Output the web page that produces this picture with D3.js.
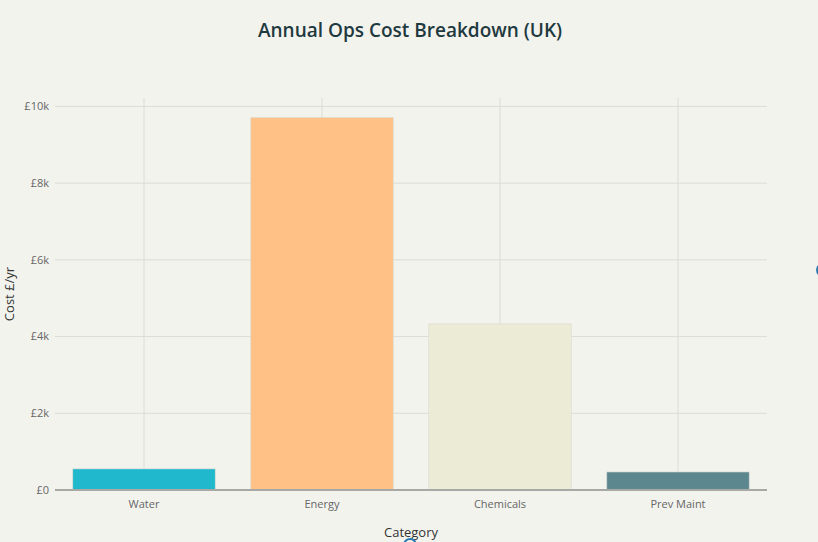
<!DOCTYPE html>
<html>
<head>
<meta charset="utf-8">
<script src="https://cdn.jsdelivr.net/npm/d3@7"></script>
<style>
  body { margin: 0; background: #f3f3ee; }
  svg { display: block; font-family: "Open Sans", "DejaVu Sans", sans-serif; }
</style>
</head>
<body>
<svg id="chart" width="818" height="542"></svg>
<script>
"use strict";

const categories = ["Water", "Energy", "Chemicals", "Prev Maint"];
const costs = [550, 9710, 4330, 470];
const barColors = ["#1fb8cd", "#ffc185", "#eceBd5", "#5d878f"];
const yTicks = [0, 2000, 4000, 6000, 8000, 10000];

const margin = { top: 98, right: 51, bottom: 52, left: 55 };
const width = 818, height = 542;
const svg = d3.select("#chart");
const plotW = width - margin.left - margin.right;
const plotH = height - margin.top - margin.bottom;

const x = d3.scaleBand().domain(categories).range([0, plotW])
  .paddingInner(0.2).paddingOuter(0.1);
const y = d3.scaleLinear().domain([0, 10220]).range([plotH, 0]);

const g = svg.append("g").attr("transform", `translate(${margin.left},${margin.top})`);

// grid
g.selectAll(".hgrid").data(yTicks.slice(1)).join("line")
  .attr("x1", 0).attr("x2", plotW)
  .attr("y1", d => y(d)).attr("y2", d => y(d))
  .attr("stroke", "#dcdcd6").attr("stroke-width", 1);
g.selectAll(".vgrid").data(categories).join("line")
  .attr("x1", d => x(d) + x.bandwidth() / 2).attr("x2", d => x(d) + x.bandwidth() / 2)
  .attr("y1", 0).attr("y2", plotH)
  .attr("stroke", "#dcdcd6").attr("stroke-width", 1);

// bars
g.selectAll("rect").data(categories).join("rect")
  .attr("x", d => x(d))
  .attr("width", x.bandwidth())
  .attr("y", (d, i) => y(costs[i]))
  .attr("height", (d, i) => plotH - y(costs[i]))
  .attr("fill", (d, i) => barColors[i])
  .attr("stroke", "#d9d9cf").attr("stroke-width", 0.6);

// axes
const fmt = d => d === 0 ? "£0" : "£" + (d / 1000) + "k";
g.selectAll(".ytick").data(yTicks).join("text")
  .attr("x", -6).attr("y", d => y(d)).attr("dy", "0.35em")
  .attr("text-anchor", "end").attr("font-size", 11).attr("fill", "#666")
  .text(fmt);

g.append("line").attr("x1", 0).attr("x2", plotW).attr("y1", plotH).attr("y2", plotH)
  .attr("stroke", "#a8a8a4").attr("stroke-width", 2);

g.selectAll(".xtick").data(categories).join("text")
  .attr("x", d => x(d) + x.bandwidth() / 2).attr("y", plotH + 18)
  .attr("text-anchor", "middle").attr("font-size", 11).attr("fill", "#666")
  .text(d => d);

// titles
svg.append("text").attr("x", 410).attr("y", 37).attr("text-anchor", "middle")
  .attr("font-size", 19).attr("font-weight", 600).attr("fill", "#1f3a3f")
  .text("Annual Ops Cost Breakdown (UK)");
svg.append("text").attr("x", 411).attr("y", 537).attr("text-anchor", "middle")
  .attr("font-size", 13).attr("fill", "#333").text("Category");
svg.append("text").attr("transform", "translate(14,294) rotate(-90)")
  .attr("text-anchor", "middle").attr("font-size", 13).attr("fill", "#333").text("Cost £/yr");

// partial circle markers at edges
svg.append("circle").attr("cx", 823).attr("cy", 270).attr("r", 6)
  .attr("fill", "none").attr("stroke", "#2a7ab0").attr("stroke-width", 2);
svg.append("circle").attr("cx", 410).attr("cy", 545).attr("r", 6)
  .attr("fill", "none").attr("stroke", "#2a7ab0").attr("stroke-width", 2);
</script>
</body>
</html>
